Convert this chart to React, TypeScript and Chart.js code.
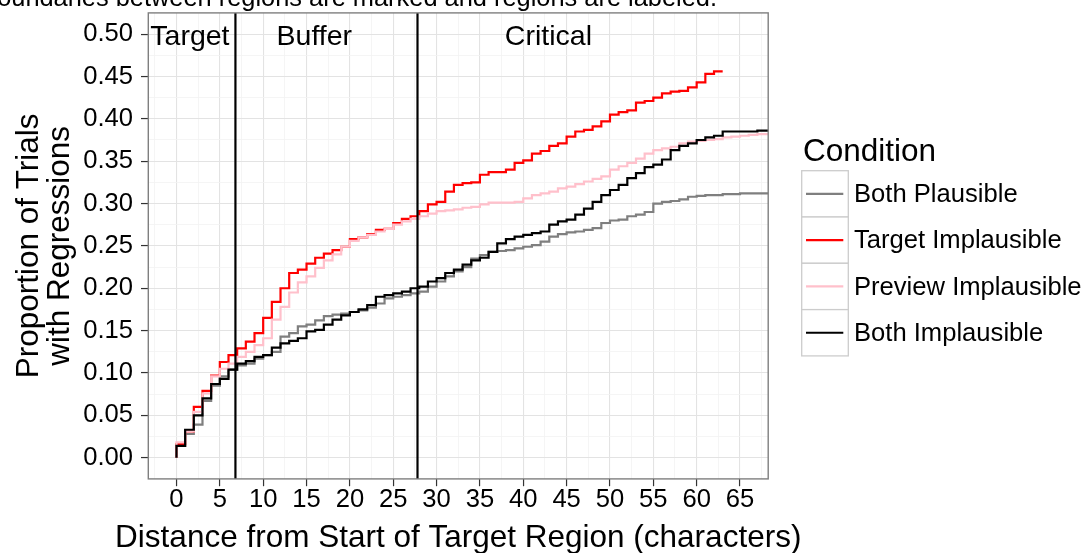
import React, { useEffect, useRef } from 'react';
import { Chart, registerables } from 'chart.js';

Chart.register(...registerables);

// ---------- data ----------
const conditions = ['Both Plausible', 'Target Implausible', 'Preview Implausible', 'Both Implausible'];
const conditionColors = ['#7f7f7f', '#ff0000', '#ffc0cb', '#000000'];

// proportion on each one-character interval [k, k+1], k = 0, 1, 2, ...
const bothPlausible = [
  0.014, 0.028, 0.039, 0.067, 0.085, 0.096, 0.104, 0.109, 0.111, 0.117,
  0.121, 0.125, 0.143, 0.147, 0.155, 0.157, 0.162, 0.167, 0.169, 0.170,
  0.172, 0.174, 0.177, 0.182, 0.188, 0.190, 0.192, 0.194, 0.196, 0.202,
  0.208, 0.214, 0.220, 0.225, 0.235, 0.239, 0.243, 0.244, 0.245, 0.247,
  0.249, 0.251, 0.255, 0.261, 0.264, 0.266, 0.267, 0.269, 0.271, 0.277,
  0.280, 0.281, 0.285, 0.287, 0.290, 0.300, 0.302, 0.303, 0.305, 0.308,
  0.309, 0.310, 0.310, 0.311, 0.311, 0.312, 0.312, 0.312, 0.312,
];
const targetImplausible = [
  0.016, 0.031, 0.060, 0.079, 0.097, 0.113, 0.121, 0.129, 0.137, 0.147,
  0.165, 0.184, 0.200, 0.218, 0.222, 0.229, 0.236, 0.241, 0.245, 0.249,
  0.258, 0.260, 0.264, 0.269, 0.270, 0.277, 0.282, 0.285, 0.291, 0.299,
  0.302, 0.314, 0.322, 0.324, 0.325, 0.334, 0.337, 0.337, 0.340, 0.348,
  0.351, 0.359, 0.362, 0.368, 0.371, 0.379, 0.385, 0.387, 0.391, 0.397,
  0.405, 0.408, 0.410, 0.419, 0.421, 0.425, 0.430, 0.432, 0.433, 0.437,
  0.443, 0.453, 0.456,
];
const previewImplausible = [
  0.018, 0.031, 0.054, 0.076, 0.096, 0.105, 0.111, 0.119, 0.125, 0.133,
  0.141, 0.163, 0.178, 0.195, 0.207, 0.214, 0.224, 0.233, 0.240, 0.249,
  0.256, 0.260, 0.263, 0.267, 0.270, 0.275, 0.279, 0.282, 0.285, 0.288,
  0.291, 0.292, 0.293, 0.295, 0.296, 0.299, 0.301, 0.301, 0.301, 0.302,
  0.306, 0.310, 0.312, 0.314, 0.318, 0.320, 0.323, 0.326, 0.329, 0.332,
  0.340, 0.344, 0.348, 0.353, 0.359, 0.363, 0.365, 0.367, 0.371, 0.373,
  0.374, 0.375, 0.376, 0.378, 0.379, 0.380, 0.381, 0.382, 0.382,
];
const bothImplausible = [
  0.014, 0.033, 0.050, 0.070, 0.087, 0.093, 0.104, 0.111, 0.114, 0.119,
  0.121, 0.130, 0.135, 0.138, 0.141, 0.149, 0.151, 0.157, 0.163, 0.168,
  0.172, 0.175, 0.180, 0.190, 0.192, 0.194, 0.196, 0.200, 0.202, 0.208,
  0.212, 0.218, 0.222, 0.228, 0.233, 0.236, 0.243, 0.253, 0.258, 0.261,
  0.263, 0.265, 0.267, 0.275, 0.279, 0.281, 0.287, 0.294, 0.302, 0.310,
  0.316, 0.322, 0.330, 0.336, 0.343, 0.346, 0.352, 0.363, 0.368, 0.371,
  0.375, 0.378, 0.380, 0.385, 0.385, 0.385, 0.385, 0.386, 0.386,
];

const xTickLabels = ['0', '5', '10', '15', '20', '25', '30', '35', '40', '45', '50', '55', '60', '65'];
const yTickLabels = ['0.00', '0.05', '0.10', '0.15', '0.20', '0.25', '0.30', '0.35', '0.40', '0.45', '0.50'];

const regionBoundaries = [6.8, 27.8];
const regionLabels = ['Target', 'Buffer', 'Critical'];
const regionLabelX = [1.55, 15.9, 42.9];
const regionLabelY = 0.5;

const xTitle = 'Distance from Start of Target Region (characters)';
const yTitleLines = ['Proportion of Trials', 'with Regressions'];
const legendTitle = 'Condition';
const captionText = 'Boundaries between regions are marked and regions are labeled.';

// ---------- helpers ----------
const FONT = '"Liberation Sans", Arial, Helvetica, sans-serif';
const W = 1091;
const H = 553;
const PANEL = { left: 148.3, right: 768.2, top: 12.9, bottom: 478.9 };

const stepPoints = (vals: number[]) => {
  const pts: { x: number; y: number }[] = [{ x: 0, y: 0 }];
  vals.forEach((v, k) => pts.push({ x: k, y: v }));
  pts.push({ x: vals.length, y: vals[vals.length - 1] });
  return pts;
};

const xMajor = xTickLabels.map(Number);
const yMajor = yTickLabels.map(Number);
const xAllTicks = [xMajor[0] - 2.5, ...xMajor.flatMap((v) => [v, v + 2.5])];
const yAllTicks = yMajor.flatMap((v, i) => (i < yMajor.length - 1 ? [v, v + 0.025] : [v]));

const isMajorX = (v: number) => Math.abs(v / 5 - Math.round(v / 5)) < 1e-6;
const isMajorY = (v: number) => Math.abs(v * 20 - Math.round(v * 20)) < 1e-6;

const seriesList = [bothPlausible, targetImplausible, previewImplausible, bothImplausible];

const decorPlugin = {
  id: 'decor',
  beforeDraw(chart: any) {
    const ctx = chart.ctx;
    ctx.save();
    ctx.fillStyle = '#ffffff';
    ctx.fillRect(0, 0, chart.width, chart.height);
    ctx.restore();
  },
  afterDatasetsDraw(chart: any) {
    const ctx = chart.ctx;
    const xs = chart.scales.x;
    const ys = chart.scales.y;
    const area = chart.chartArea;
    ctx.save();
    // region boundaries
    ctx.strokeStyle = '#000000';
    ctx.lineWidth = 2.2;
    regionBoundaries.forEach((b) => {
      const px = xs.getPixelForValue(b);
      ctx.beginPath();
      ctx.moveTo(px, area.top);
      ctx.lineTo(px, area.bottom);
      ctx.stroke();
    });
    // region labels
    ctx.fillStyle = '#000000';
    ctx.font = `28.5px ${FONT}`;
    ctx.textAlign = 'center';
    ctx.textBaseline = 'alphabetic';
    regionLabels.forEach((t, i) => {
      ctx.fillText(t, xs.getPixelForValue(regionLabelX[i]), ys.getPixelForValue(regionLabelY) + 10.5);
    });
    // panel border
    ctx.strokeStyle = '#7f7f7f';
    ctx.lineWidth = 1.4;
    ctx.strokeRect(area.left, area.top, area.right - area.left, area.bottom - area.top);
    ctx.restore();
  },
  afterDraw(chart: any) {
    const ctx = chart.ctx;
    const area = chart.chartArea;
    ctx.save();
    ctx.fillStyle = '#000000';
    // clipped caption at the very top
    ctx.font = `25.4px ${FONT}`;
    ctx.textAlign = 'right';
    ctx.textBaseline = 'alphabetic';
    ctx.fillText(captionText, 717, 5.5);
    // x title
    ctx.font = `31.5px ${FONT}`;
    ctx.textAlign = 'center';
    ctx.fillText(xTitle, (area.left + area.right) / 2, 547);
    // y title
    const cy = (area.top + area.bottom) / 2;
    ctx.save();
    ctx.translate(37.5, cy);
    ctx.rotate(-Math.PI / 2);
    ctx.fillText(yTitleLines[0], 0, 0);
    ctx.restore();
    ctx.save();
    ctx.translate(68.5, cy);
    ctx.rotate(-Math.PI / 2);
    ctx.fillText(yTitleLines[1], 0, 0);
    ctx.restore();
    // legend
    ctx.textAlign = 'left';
    ctx.font = `31.5px ${FONT}`;
    ctx.fillText(legendTitle, 803, 161);
    const kx = 801.7;
    const kw = 46.6;
    const ky = 170.7;
    const kh = 46.3;
    conditions.forEach((c, i) => {
      const top = ky + i * kh;
      ctx.fillStyle = '#ffffff';
      ctx.fillRect(kx, top, kw, kh);
      ctx.strokeStyle = '#cccccc';
      ctx.lineWidth = 1.3;
      ctx.strokeRect(kx, top, kw, kh);
      const mid = top + kh / 2;
      ctx.strokeStyle = conditionColors[i];
      ctx.lineWidth = 2.2;
      ctx.beginPath();
      ctx.moveTo(806, mid);
      ctx.lineTo(843.3, mid);
      ctx.stroke();
      ctx.fillStyle = '#000000';
      ctx.font = `25.6px ${FONT}`;
      ctx.textBaseline = 'middle';
      ctx.fillText(c, 854, mid + 1);
      ctx.textBaseline = 'alphabetic';
    });
    ctx.restore();
  },
};

export default function App() {
  const canvasRef = useRef<HTMLCanvasElement | null>(null);

  useEffect(() => {
    const canvas = canvasRef.current;
    if (!canvas) return;
    const chart = new Chart(canvas, {
      type: 'line',
      data: {
        datasets: seriesList.map((vals, i) => ({
          label: conditions[i],
          data: stepPoints(vals),
          borderColor: conditionColors[i],
          backgroundColor: conditionColors[i],
          borderWidth: 2.2,
          pointRadius: 0,
          pointHoverRadius: 0,
          stepped: 'before' as const,
          fill: false,
          tension: 0,
          order: 3 - i,
        })),
      },
      options: {
        responsive: false,
        animation: false,
        devicePixelRatio: 1,
        events: [],
        layout: {
          padding: { left: 0, top: PANEL.top, right: W - PANEL.right, bottom: 0 },
        },
        plugins: {
          legend: { display: false },
          tooltip: { enabled: false },
          title: { display: false },
        },
        scales: {
          x: {
            type: 'linear',
            min: -3.25,
            max: 68.25,
            afterBuildTicks: (scale: any) => {
              scale.ticks = xAllTicks.map((v) => ({ value: v }));
            },
            afterFit: (scale: any) => {
              scale.height = H - PANEL.bottom;
              scale.paddingLeft = 0;
              scale.paddingRight = 0;
              scale.paddingTop = 0;
              scale.paddingBottom = 0;
            },
            border: { display: false },
            grid: {
              color: (c: any) => (isMajorX(c.tick.value) ? '#e3e3e3' : '#f3f3f3'),
              lineWidth: (c: any) => (isMajorX(c.tick.value) ? 1.1 : 0.8),
              tickColor: (c: any) => (isMajorX(c.tick.value) && c.tick.value >= 0 ? '#333333' : 'rgba(0,0,0,0)'),
              tickLength: 7.3,
              tickWidth: 1.2,
              drawTicks: true,
            },
            ticks: {
              autoSkip: false,
              maxRotation: 0,
              minRotation: 0,
              padding: 1,
              color: '#000000',
              font: { family: FONT, size: 25.6, lineHeight: 1 },
              callback: (v: any) => {
                const n = Number(v);
                if (!isMajorX(n)) return '';
                const idx = xMajor.indexOf(Math.round(n));
                return idx >= 0 ? xTickLabels[idx] : '';
              },
            },
            title: { display: false },
          },
          y: {
            type: 'linear',
            min: -0.025,
            max: 0.525,
            afterBuildTicks: (scale: any) => {
              scale.ticks = yAllTicks.map((v) => ({ value: v }));
            },
            afterFit: (scale: any) => {
              scale.width = PANEL.left;
              scale.paddingLeft = 0;
              scale.paddingRight = 0;
              scale.paddingTop = 0;
              scale.paddingBottom = 0;
            },
            border: { display: false },
            grid: {
              color: (c: any) => (isMajorY(c.tick.value) ? '#e3e3e3' : '#f3f3f3'),
              lineWidth: (c: any) => (isMajorY(c.tick.value) ? 1.1 : 0.8),
              tickColor: (c: any) => (isMajorY(c.tick.value) ? '#333333' : 'rgba(0,0,0,0)'),
              tickLength: 7.3,
              tickWidth: 1.2,
              drawTicks: true,
            },
            ticks: {
              autoSkip: false,
              padding: 8,
              color: '#000000',
              font: { family: FONT, size: 25.6, lineHeight: 1 },
              callback: (v: any) => {
                const n = Number(v);
                if (!isMajorY(n)) return '';
                const idx = Math.round(n * 20);
                return yTickLabels[idx] ?? '';
              },
            },
            title: { display: false },
          },
        },
      },
      plugins: [decorPlugin],
    } as any);
    return () => chart.destroy();
  }, []);

  return (
    <div
      style={{
        position: 'fixed',
        left: 0,
        top: 0,
        width: W,
        height: H,
        overflow: 'hidden',
        background: '#ffffff',
      }}
    >
      <canvas ref={canvasRef} width={W} height={H} style={{ width: W, height: H, display: 'block' }} />
    </div>
  );
}
